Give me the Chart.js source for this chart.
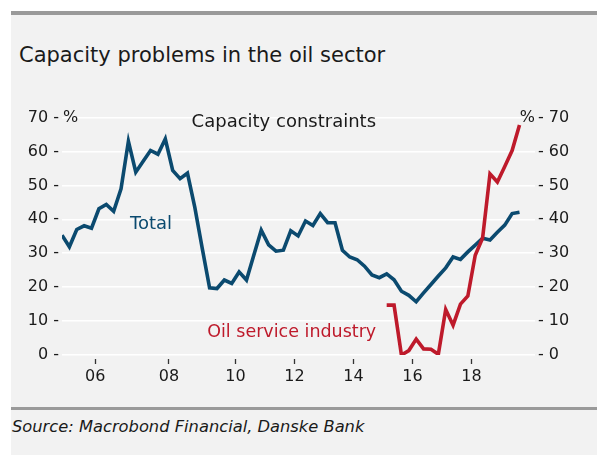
<!DOCTYPE html>
<html>
<head>
<meta charset="utf-8">
<script src="https://cdn.jsdelivr.net/npm/chart.js@4.4.1/dist/chart.umd.min.js"></script>
<style>
  html, body { margin: 0; padding: 0; background: #ffffff; }
  body { width: 603px; height: 457px; position: relative; overflow: hidden; font-family: 'DejaVu Sans', sans-serif; }
  #panel { position: absolute; left: 11px; top: 11px; width: 586px; height: 444px; background: #f2f2f2; border-top: 4px solid #9a9a9a; box-sizing: border-box; }
  #title { position: absolute; left: 19px; top: 45px; font-size: 21px; line-height: 21px; color: #1a1a1a; white-space: nowrap; }
  #rule { position: absolute; left: 11px; top: 407px; width: 586px; height: 3px; background: #9a9a9a; }
  #source { position: absolute; left: 12px; top: 419px; font-size: 16.3px; line-height: 16px; font-style: italic; color: #1a1a1a; white-space: nowrap; }
  #wrap { position: absolute; left: 11px; top: 105px; width: 586px; height: 290px; }
</style>
</head>
<body>
<div id="panel"></div>
<div id="title">Capacity problems in the oil sector</div>
<div id="wrap"><canvas id="c" width="586" height="290"></canvas></div>
<div id="rule"></div>
<div id="source">Source: Macrobond Financial, Danske Bank</div>
<script>
// Survey rounds (5 per year until 2008, then quarterly)
const periods = [
  '2005-1','2005-2','2005-3','2005-4','2005-5',
  '2006-1','2006-2','2006-3','2006-4','2006-5',
  '2007-1','2007-2','2007-3','2007-4','2007-5',
  '2008-1','2008-2','2008-3','2008-4','2008-5',
  '2009-1','2009-2','2009-3','2009-4',
  '2010-1','2010-2','2010-3','2010-4',
  '2011-1','2011-2','2011-3','2011-4',
  '2012-1','2012-2','2012-3','2012-4',
  '2013-1','2013-2','2013-3','2013-4',
  '2014-1','2014-2','2014-3','2014-4',
  '2015-1','2015-2','2015-3','2015-4',
  '2016-1','2016-2','2016-3','2016-4',
  '2017-1','2017-2','2017-3','2017-4',
  '2018-1','2018-2','2018-3','2018-4',
  '2019-1','2019-2','2019-3'
];

// Capacity constraints, total (%)
const totalValues = [
  35.3, 31.9, 37.0, 38.1, 37.4,
  43.1, 44.4, 42.4, 49.0, 63.0,
  53.9, 57.1, 60.3, 59.2, 63.7,
  54.4, 52.0, 53.6, 43.5, 31.5,
  19.8, 19.6, 22.1, 21.1,
  24.5, 22.1, 29.5, 36.8,
  32.5, 30.6, 30.9, 36.6,
  35.1, 39.5, 38.2, 41.7,
  39.0, 39.0, 30.9, 28.9,
  28.1, 26.2, 23.6, 22.8,
  23.9, 22.2, 18.8, 17.6,
  15.7, 18.3, 20.8, 23.3,
  25.7, 28.9, 28.2, 30.4,
  32.4, 34.4, 33.9, 36.2,
  38.3, 41.7, 42.1
];

// Capacity constraints, oil service industry (%)
const oilServiceValues = [
  null, null, null, null, null,
  null, null, null, null, null,
  null, null, null, null, null,
  null, null, null, null, null,
  null, null, null, null,
  null, null, null, null,
  null, null, null, null,
  null, null, null, null,
  null, null, null, null,
  null, null, null, null,
  14.7, 14.7, 0.0, 1.3,
  4.7, 1.8, 1.7, 0.2,
  13.4, 8.8, 15.0, 17.4,
  29.4, 34.5, 53.4, 51.0,
  55.6, 60.3, 67.8
];

const yTickValues = [0, 10, 20, 30, 40, 50, 60, 70];
const xTickLabels = ['06', '08', '10', '12', '14', '16', '18'];

const BLUE = '#0b4a6f';
const RED = '#be1a2b';
const INK = '#1a1a1a';
const FONT = "'DejaVu Sans', sans-serif";

// tick positions: boundary before the first survey round of each labelled year
const xTicks = xTickLabels.map(l => ({
  value: periods.findIndex(p => p.startsWith('20' + l)) - 0.5,
  label: l
}));

const notes = [
  { text: 'Capacity constraints', x: 30.06, y: 67.35, color: INK, size: 18 },
  { text: 'Total', x: 12.06, y: 37.26, color: BLUE, size: 18 },
  { text: 'Oil service industry', x: 31.13, y: 5.38, color: RED, size: 17.5 }
];

const notePlugin = {
  id: 'notes',
  afterDatasetsDraw(chart) {
    const ctx = chart.ctx;
    const xs = chart.scales.x, ys = chart.scales.y;
    const area = chart.chartArea;
    ctx.save();
    ctx.textBaseline = 'middle';
    ctx.fillStyle = INK;
    ctx.font = '16px ' + FONT;
    const y70 = ys.getPixelForValue(yTickValues[yTickValues.length - 1]);
    ctx.textAlign = 'left';
    ctx.fillText('%', area.left + 1, y70);
    ctx.textAlign = 'right';
    ctx.fillText('%', area.right, y70);
    ctx.textBaseline = 'alphabetic';
    ctx.textAlign = 'center';
    notes.forEach(n => {
      ctx.font = n.size + 'px ' + FONT;
      ctx.fillStyle = n.color;
      ctx.fillText(n.text, xs.getPixelForValue(n.x), ys.getPixelForValue(n.y));
    });
    ctx.restore();
  }
};

const tickFont = { family: FONT, size: 16 };

new Chart(document.getElementById('c'), {
  type: 'line',
  data: {
    datasets: [
      {
        label: 'Total',
        data: totalValues.map((v, i) => ({ x: i, y: v })),
        borderColor: BLUE,
        borderWidth: 3.6,
        pointRadius: 0,
        tension: 0,
        yAxisID: 'y',
        order: 1
      },
      {
        label: 'Oil service industry',
        data: oilServiceValues.map((v, i) => ({ x: i, y: v })),
        borderColor: RED,
        borderWidth: 3.6,
        pointRadius: 0,
        tension: 0,
        spanGaps: false,
        yAxisID: 'y2',
        order: 0
      }
    ]
  },
  options: {
    responsive: false,
    devicePixelRatio: 1,
    animation: false,
    layout: { padding: { top: 12, left: 0, right: 0, bottom: 0 } },
    plugins: { legend: { display: false }, tooltip: { enabled: false }, title: { display: false } },
    scales: {
      x: {
        type: 'linear',
        min: 0,
        max: periods.length + 1.1,
        afterBuildTicks(scale) { scale.ticks = xTicks.map(t => ({ value: t.value })); },
        afterFit(scale) { scale.height = 40; },
        border: { display: false },
        grid: {
          drawOnChartArea: false,
          drawTicks: true,
          tickLength: 9,
          tickColor: '#333333',
          tickWidth: 1.3,
          tickBorderDash: [0, 4, 5, 40]
        },
        ticks: {
          autoSkip: false,
          maxRotation: 0,
          padding: 3,
          color: INK,
          font: tickFont,
          callback(v) {
            const t = xTicks.find(t => Math.abs(t.value - v) < 1e-6);
            return t ? t.label : '';
          }
        }
      },
      y: {
        position: 'left',
        min: 0,
        max: 70,
        afterBuildTicks(scale) { scale.ticks = yTickValues.map(v => ({ value: v })); },
        afterFit(scale) { scale.width = 51; },
        border: { display: false },
        grid: { color: '#ffffff', lineWidth: 1.6, drawTicks: false },
        ticks: { padding: 3, color: INK, font: tickFont, callback: v => v + ' -' }
      },
      y2: {
        position: 'right',
        min: 0,
        max: 70,
        afterBuildTicks(scale) { scale.ticks = yTickValues.map(v => ({ value: v })); },
        afterFit(scale) { scale.width = 62; },
        border: { display: false },
        grid: { display: false, drawOnChartArea: false, drawTicks: false },
        ticks: { padding: 3, color: INK, font: tickFont, callback: v => '- ' + v }
      }
    }
  },
  plugins: [notePlugin]
});
</script>
</body>
</html>
